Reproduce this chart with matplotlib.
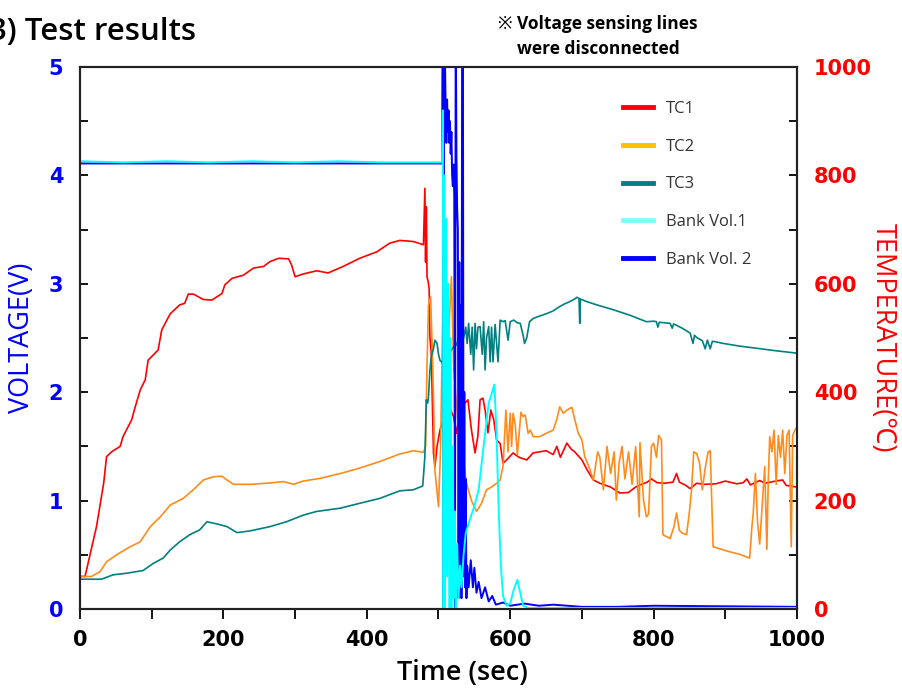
import matplotlib.pyplot as plt
from matplotlib.lines import Line2D
from matplotlib.ticker import MultipleLocator

# 시간 (sec) / 온도 (°C) 데이터 - 그림에서 읽은 값
tc1_t = [0, 7, 23, 33, 37, 44, 56, 60, 72, 77, 84, 91, 95, 109, 114, 126, 139, 146, 151, 158,
         172, 184, 198, 202, 212, 228, 242, 256, 265, 277, 291, 295, 300, 311, 330, 346, 367,
         390, 414, 432, 446, 465, 479, 481, 482, 483, 484, 486, 487, 488, 490, 493, 495, 498,
         502, 507, 512, 517, 521, 525, 529, 532, 537, 541, 546, 551, 555, 558, 562, 565, 569,
         573, 577, 581, 586, 590, 595, 604, 612, 623, 632, 641, 650, 660, 665, 670, 679, 685,
         690, 700, 708, 716, 725, 740, 753, 765, 775, 781, 791, 797, 805, 815, 827, 832, 836,
         845, 851, 860, 870, 887, 900, 916, 925, 930, 935, 948, 955, 970, 980, 985, 1000]
tc1_v = [60, 60, 152, 232, 281, 290, 300, 318, 349, 373, 404, 423, 459, 478, 515, 545, 561, 564, 581, 581,
         571, 570, 582, 598, 610, 616, 629, 632, 641, 647, 646, 635, 613, 618, 624, 620, 632,
         647, 659, 675, 680, 678, 672, 776, 640, 742, 613, 601, 590, 502, 470, 288, 262, 300,
         330, 350, 361, 367, 355, 324, 360, 389, 380, 386, 330, 288, 320, 386, 389, 367, 325,
         367, 350, 312, 305, 269, 275, 288, 280, 275, 288, 290, 292, 285, 300, 280, 306, 295,
         290, 275, 255, 238, 232, 225, 214, 215, 225, 229, 234, 240, 233, 232, 234, 250, 234,
         228, 222, 232, 230, 231, 236, 231, 233, 240, 229, 237, 232, 236, 238, 228, 225]

tc2_t = [0, 16, 28, 37, 51, 70, 84, 98, 112, 126, 144, 158, 172, 186, 198, 205, 214, 237, 260,
         284, 298, 311, 335, 363, 390, 418, 446, 465, 479, 482, 484, 486, 489, 492, 495, 500,
         503, 506, 507, 509, 511, 514, 518, 521, 525, 530, 535, 539, 546, 553, 560, 567, 574,
         581, 586, 590, 594, 597, 600, 602, 604, 607, 610, 615, 618, 621, 625, 628, 632, 641,
         650, 660, 665, 669, 674, 679, 686, 690, 695, 700, 704, 710, 716, 722, 725, 730, 735,
         740, 745, 748, 752, 756, 760, 765, 770, 775, 780, 781, 786, 790, 793, 797, 800, 804,
         807, 811, 813, 823, 828, 832, 836, 840, 846, 850, 853, 856, 860, 864, 868, 872, 876,
         879, 883, 902, 920, 934, 937, 939, 942, 945, 948, 952, 955, 958, 960, 962, 965, 968,
         971, 974, 977, 980, 983, 986, 989, 992, 994, 997, 1000]
tc2_v = [60, 60, 69, 87, 100, 115, 124, 152, 170, 192, 204, 220, 238, 244, 245, 238, 230, 230, 232,
         235, 230, 236, 241, 250, 260, 272, 286, 292, 289, 300, 450, 560, 576, 450, 256, 189,
         300, 560, 638, 500, 417, 500, 613, 450, 380, 293, 270, 232, 200, 180, 195, 220, 225,
         232, 238, 263, 367, 290, 361, 300, 361, 340, 285, 363, 355, 358, 324, 330, 318, 318,
         324, 330, 350, 373, 361, 367, 372, 350, 324, 312, 281, 262, 238, 290, 280, 220, 300,
         250, 290, 201, 270, 300, 240, 290, 230, 300, 170, 307, 200, 170, 175, 300, 306, 280,
         320, 312, 137, 130, 150, 177, 145, 140, 137, 180, 220, 290, 287, 270, 220, 260, 290,
         292, 115, 107, 101, 94, 150, 177, 250, 160, 120, 200, 263, 110, 240, 318, 290, 330,
         230, 320, 280, 330, 250, 320, 330, 115, 320, 330, 336]

tc3_t = [0, 30, 46, 65, 88, 102, 116, 126, 139, 153, 167, 177, 191, 205, 219, 237, 265, 288, 311,
         330, 363, 390, 418, 446, 465, 478, 481, 483, 485, 486, 488, 490, 493, 495, 498, 500,
         502, 505, 509, 512, 515, 518, 522, 525, 528, 531, 535, 538, 540, 542, 545, 547, 549,
         551, 553, 555, 558, 561, 563, 565, 567, 570, 572, 574, 576, 579, 583, 586, 590, 593,
         597, 600, 605, 610, 614, 618, 620, 623, 627, 632, 640, 651, 660, 669, 676, 683, 690,
         693, 696, 697, 698, 705, 721, 744, 767, 790, 800, 804, 806, 808, 823, 826, 828, 840,
         851, 855, 857, 860, 868, 872, 875, 879, 882, 890, 897, 920, 944, 967, 1000]
tc3_v = [55, 55, 63, 66, 71, 84, 94, 109, 124, 137, 146, 161, 157, 152, 141, 144, 152, 161, 173,
         180, 186, 195, 204, 218, 220, 227, 281, 386, 380, 391, 440, 466, 480, 496, 490, 470,
         459, 455, 450, 460, 470, 478, 485, 487, 500, 495, 500, 520, 490, 527, 470, 520, 441,
         527, 480, 520, 521, 470, 530, 441, 500, 521, 456, 520, 456, 525, 456, 533, 530, 532,
         496, 530, 533, 528, 527, 505, 490, 500, 530, 536, 540, 545, 550, 558, 563, 567, 572,
         575, 573, 527, 572, 568, 561, 552, 542, 530, 531, 530, 520, 529, 527, 518, 526, 518,
         509, 490, 505, 501, 495, 480, 496, 480, 494, 492, 490, 485, 481, 477, 472]

# 전압 (V) 데이터
vol1_t = [0, 60, 120, 180, 240, 300, 360, 420, 480, 505, 506, 507, 508, 509, 511, 512, 514, 515,
          517, 518, 520, 521, 523, 524, 526, 528, 530, 532, 535, 538, 545, 550, 556, 562, 570,
          578, 581, 584, 587, 590, 595, 600, 605, 610, 614, 618, 625, 700, 800, 900, 1000]
vol1_v = [4.13, 4.12, 4.13, 4.12, 4.13, 4.12, 4.13, 4.12, 4.12, 4.12, 4.6, 0.0, 4.0, 0.0, 3.6, 0.3, 3.0, 0.0,
          2.5, 0.0, 1.5, 0.1, 0.9, 0.0, 0.6, 0.1, 0.4, 0.2, 0.5, 0.7, 0.85, 0.95, 1.1, 1.45, 1.9,
          2.07, 1.6, 0.9, 0.4, 0.12, 0.03, 0.05, 0.18, 0.27, 0.15, 0.03, 0.01, 0.01, 0.01, 0.01, 0.01]

vol2_t = [0, 100, 200, 300, 400, 505, 506, 507, 508, 510, 511, 512, 513, 514, 515, 516, 517, 518,
          519, 520, 521, 522, 523, 524, 525, 526, 527, 528, 529, 530, 531, 532, 533, 534, 535,
          536, 537, 538, 539, 540, 542, 545, 548, 550, 553, 556, 560, 565, 570, 575, 580, 590,
          600, 620, 640, 660, 700, 750, 800, 1000]
vol2_v = [4.11, 4.11, 4.11, 4.11, 4.11, 4.11, 5.6, 0.0, 5.6, 4.6, 4.3, 4.7, 4.4, 4.6, 4.3, 4.5, 4.2, 4.4,
          4.0, 3.9, 4.1, 3.8, 0.0, 5.6, 4.2, 3.7, 3.5, 0.1, 3.2, 0.2, 2.8, 0.1, 5.6, 5.6, 0.3,
          2.0, 0.2, 1.2, 0.1, 0.4, 0.2, 0.45, 0.2, 0.38, 0.15, 0.25, 0.1, 0.2, 0.07, 0.12, 0.04, 0.06,
          0.03, 0.05, 0.03, 0.04, 0.02, 0.02, 0.03, 0.02]

x_ticks = [0, 200, 400, 600, 800, 1000]
volt_ticks = [0, 1, 2, 3, 4, 5]
temp_ticks = [0, 200, 400, 600, 800, 1000]

# 그래프 크기 설정
fig = plt.figure(figsize=(9.03, 6.89), dpi=100)
ax = fig.add_axes([0.0886, 0.1161, 0.794, 0.7867])
ax2 = ax.twinx()

# 온도 (오른쪽 축)
ax2.plot(tc1_t, tc1_v, color="#ff0000", lw=1.2)
ax2.plot(tc2_t, tc2_v, color="#ff8c1a", lw=1.2)
ax2.plot(tc3_t, tc3_v, color="#008080", lw=1.2)

# 전압 (왼쪽 축) - 온도 위에 그리기
ax.set_zorder(ax2.get_zorder() + 1)
ax.patch.set_visible(False)
ax.plot(vol2_t, vol2_v, color="#0000ff", lw=1.4)
ax.plot(vol1_t, vol1_v, color="#00ffff", lw=1.4)

ax.set_xlim(0, 1000)
ax.set_ylim(0, 5)
ax2.set_ylim(0, 1000)

tick_font = dict(family="DejaVu Sans", weight="bold", size=15)

ax.set_xticks(x_ticks)
ax.set_xticklabels([str(v) for v in x_ticks], **tick_font)
ax.xaxis.set_minor_locator(MultipleLocator(100))
ax.set_yticks(volt_ticks)
ax.set_yticklabels([str(v) for v in volt_ticks], color="#0000ff", **tick_font)
ax.yaxis.set_minor_locator(MultipleLocator(0.5))
ax2.set_yticks(temp_ticks)
ax2.set_yticklabels([str(v) for v in temp_ticks], color="#ff0000", **tick_font)
ax2.yaxis.set_minor_locator(MultipleLocator(100))

ax.tick_params(axis="x", which="both", direction="out", length=7, width=1.3, pad=8)
ax.tick_params(axis="y", which="both", direction="in", length=6, width=1.3, pad=12)
ax2.tick_params(axis="y", which="both", direction="in", length=6, width=1.3, pad=12)

for a in (ax, ax2):
    for s in a.spines.values():
        s.set_linewidth(1.5)
        s.set_color("#222222")

# 축 라벨
label_family = ["Open Sans", "Noto Sans", "DejaVu Sans"]
ax.set_xlabel("Time (sec)", family=label_family, size=19.5, weight="semibold")
ax.xaxis.set_label_coords(0.533, -0.093)
ax.set_ylabel("VOLTAGE(V)", family=label_family, size=19.5, color="#0000ff", va="center")
ax.yaxis.set_label_coords(-0.081, 0.5)
ax2.set_ylabel("TEMPERATURE(℃)", family=label_family, size=19.5, color="#ff0000",
               rotation=-90, va="center")
ax2.yaxis.set_label_coords(1.12, 0.5)

# 범례
handles = [
    Line2D([], [], color="#ff0000", lw=3.5),
    Line2D([], [], color="#ffc000", lw=3.5),
    Line2D([], [], color="#008080", lw=3.5),
    Line2D([], [], color="#80ffff", lw=3.5),
    Line2D([], [], color="#0000ff", lw=3.5),
]
labels = ["TC1", "TC2", "TC3", "Bank Vol.1", "Bank Vol. 2"]
leg = ax.legend(handles, labels, loc="upper left", bbox_to_anchor=(0.758, 0.937),
                frameon=False, handlelength=1.8, handletextpad=0.75, labelspacing=1.3,
                borderpad=0, borderaxespad=0,
                prop=dict(family=label_family, size=12))
for t in leg.get_texts():
    t.set_color("#333333")

# 제목 및 주석
fig.text(-0.0125, 0.976, "3) Test results", family=label_family, size=22.5,
         weight="semibold", ha="left", va="top")
fig.text(0.6622, 0.978, "※ Voltage sensing lines", family=label_family,
         size=12.5, weight="bold", ha="center", va="top")
fig.text(0.6622, 0.942, "were disconnected", family=label_family,
         size=12.5, weight="bold", ha="center", va="top")

plt.savefig("out.png", dpi=100)
